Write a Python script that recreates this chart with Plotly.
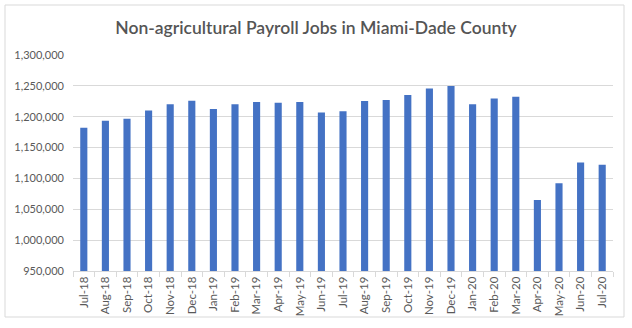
import plotly.graph_objects as go

months = ["Jul-18","Aug-18","Sep-18","Oct-18","Nov-18","Dec-18","Jan-19","Feb-19","Mar-19","Apr-19",
          "May-19","Jun-19","Jul-19","Aug-19","Sep-19","Oct-19","Nov-19","Dec-19","Jan-20","Feb-20",
          "Mar-20","Apr-20","May-20","Jun-20","Jul-20"]
jobs = [1182200,1193500,1196700,1210000,1220000,1226000,1212300,1220000,1223700,1222700,
        1223700,1207000,1209000,1225300,1226900,1235000,1245800,1249600,1220000,1229600,
        1232400,1064900,1092000,1126000,1122200]
y_ticks = [950000,1000000,1050000,1100000,1150000,1200000,1250000,1300000]

W, H = 632, 328
L, R, T, B = 73, 19, 55, 57

fig = go.Figure(go.Bar(x=months, y=jobs, marker=dict(color="#4472C4", line=dict(width=0)),
                       width=0.33))
fig.update_layout(
    width=W, height=H, margin=dict(l=L, r=R, t=T, b=B),
    paper_bgcolor="white", plot_bgcolor="white",
    font=dict(family="Lato, Open Sans, sans-serif", color="#595959", size=11),
    title=dict(text="Non-agricultural Payroll Jobs in Miami-Dade County", x=0.5, xanchor="center",
               y=1 - 28/H, yanchor="middle",
               font=dict(size=17.5, color="#555555", weight=600)),
    showlegend=False,
    bargap=0.67,
)
fig.update_xaxes(type="category", tickangle=-90, showgrid=False, showline=True, linecolor="#D9D9D9",
                 ticks="outside", tickson="boundaries", ticklen=5, tickcolor="#D9D9D9",
                 tickfont=dict(size=11.5, color="#595959"))
fig.update_yaxes(range=[950000, 1300000], tickvals=y_ticks, tickformat=",d", showgrid=True,
                 gridcolor="#D9D9D9", gridwidth=1, zeroline=False, showline=False, ticks="",
                 tickfont=dict(size=11, color="#595959"), ticklabelstandoff=8)
fig.add_shape(type="rect", xref="paper", yref="paper",
              x0=(5 - L)/(W - L - R), x1=(624 - L)/(W - L - R),
              y0=-(317 - (H - B))/(H - T - B), y1=1 + (T - 5)/(H - T - B),
              line=dict(color="#D9D9D9", width=1), layer="below")
fig.write_html("out.html")
